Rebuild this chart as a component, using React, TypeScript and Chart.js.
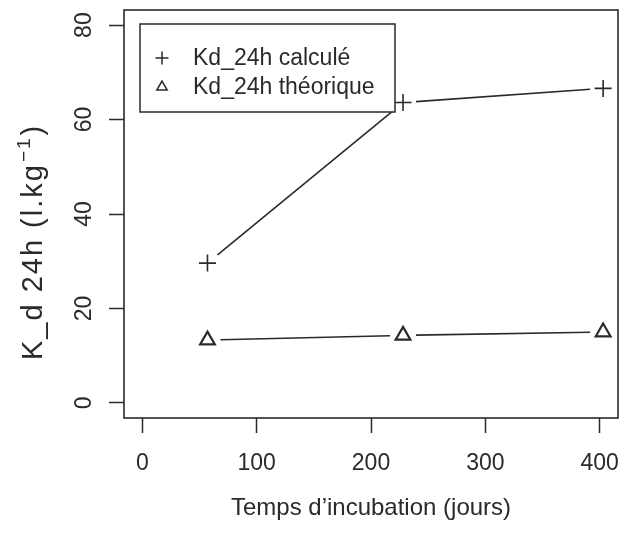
import React, { useEffect, useRef } from 'react';
import { Chart, registerables } from 'chart.js';

Chart.register(...registerables);

// ---- data ----
const incubationDays = [57, 228, 403];
const kdCalcule = [29.6, 63.6, 66.6];
const kdTheorique = [13.3, 14.3, 15.0];
const seriesLabels = ['Kd_24h calculé', 'Kd_24h théorique'];
const xTickValues = [0, 100, 200, 300, 400];
const yTickValues = [0, 20, 40, 60, 80];
const xTitle = 'Temps d’incubation (jours)';
const yTitleMain = 'K_d 24h (l.kg';
const yTitleSup = '−1';
const yTitleEnd = ')';

const INK = '#2a2a2a';
const FONT = '"Liberation Sans", Arial, Helvetica, sans-serif';

const gappedLines = {
  id: 'gappedLines',
  beforeDatasetsDraw(chart: any) {
    const ctx = chart.ctx;
    const gap = 13;
    chart.data.datasets.forEach((_ds: any, i: number) => {
      const pts = chart.getDatasetMeta(i).data;
      ctx.save();
      ctx.strokeStyle = INK;
      ctx.lineWidth = 1.6;
      for (let k = 0; k < pts.length - 1; k++) {
        const a = pts[k], b = pts[k + 1];
        const dx = b.x - a.x, dy = b.y - a.y;
        const len = Math.hypot(dx, dy);
        if (len < 2 * gap) continue;
        const ux = dx / len, uy = dy / len;
        ctx.beginPath();
        ctx.moveTo(a.x + ux * gap, a.y + uy * gap);
        ctx.lineTo(b.x - ux * gap, b.y - uy * gap);
        ctx.stroke();
      }
      ctx.restore();
    });
  },
};

const frameLegendTitle = {
  id: 'frameLegendTitle',
  afterDatasetsDraw(chart: any) {
    const ctx = chart.ctx;
    const ca = chart.chartArea;
    // legend box (white background hides the line below it)
    const bx = ca.left + 16, by = ca.top + 14, bw = 255, bh = 88;
    ctx.save();
    ctx.fillStyle = '#ffffff';
    ctx.fillRect(bx, by, bw, bh);
    ctx.strokeStyle = INK;
    ctx.lineWidth = 1.5;
    ctx.strokeRect(bx, by, bw, bh);
    ctx.font = `23px ${FONT}`;
    ctx.fillStyle = INK;
    ctx.textBaseline = 'middle';
    ctx.textAlign = 'left';
    const rows = [by + 34, by + 63];
    chart.data.datasets.forEach((ds: any, i: number) => {
      const sx = bx + 22, sy = rows[i];
      ctx.lineWidth = 1.5;
      ctx.beginPath();
      if (ds.pointStyle === 'cross') {
        ctx.moveTo(sx - 6.5, sy); ctx.lineTo(sx + 6.5, sy);
        ctx.moveTo(sx, sy - 6.5); ctx.lineTo(sx, sy + 6.5);
      } else {
        const r = 6;
        ctx.moveTo(sx, sy - r);
        ctx.lineTo(sx + r * Math.sin((2 * Math.PI) / 3), sy - r * Math.cos((2 * Math.PI) / 3));
        ctx.lineTo(sx + r * Math.sin((4 * Math.PI) / 3), sy - r * Math.cos((4 * Math.PI) / 3));
        ctx.closePath();
      }
      ctx.stroke();
      ctx.fillText(ds.label, bx + 53, sy + 1);
    });
    ctx.restore();
  },
  afterDraw(chart: any) {
    const ctx = chart.ctx;
    const ca = chart.chartArea;
    ctx.save();
    ctx.strokeStyle = INK;
    ctx.lineWidth = 1.6;
    ctx.strokeRect(ca.left, ca.top, ca.right - ca.left, ca.bottom - ca.top);
    // y axis title with superscript
    ctx.fillStyle = INK;
    ctx.translate(42, 360);
    ctx.rotate(-Math.PI / 2);
    ctx.textAlign = 'left';
    ctx.textBaseline = 'alphabetic';
    (ctx as any).letterSpacing = '2px';
    ctx.font = `29px ${FONT}`;
    ctx.fillText(yTitleMain, 0, 0);
    let w = ctx.measureText(yTitleMain).width;
    ctx.font = `19px ${FONT}`;
    ctx.fillText(yTitleSup, w + 1, -12);
    w += ctx.measureText(yTitleSup).width + 2;
    ctx.font = `29px ${FONT}`;
    ctx.fillText(yTitleEnd, w, 0);
    (ctx as any).letterSpacing = '0px';
    ctx.restore();
  },
};

export default function App() {
  const ref = useRef<HTMLCanvasElement | null>(null);

  useEffect(() => {
    document.body.style.margin = '0';
    const canvas = ref.current;
    if (!canvas) return;
    const chart = new Chart(canvas, {
      type: 'scatter',
      data: {
        datasets: [
          {
            label: seriesLabels[0],
            data: incubationDays.map((x, i) => ({ x, y: kdCalcule[i] })),
            pointStyle: 'cross',
            pointRadius: 8.5,
            pointBorderWidth: 1.6,
            borderColor: INK,
            backgroundColor: 'transparent',
            showLine: false,
          },
          {
            label: seriesLabels[1],
            data: incubationDays.map((x, i) => ({ x, y: kdTheorique[i] })),
            pointStyle: 'triangle',
            pointRadius: 8.5,
            pointBorderWidth: 2.2,
            borderColor: INK,
            backgroundColor: 'transparent',
            showLine: false,
          },
        ],
      } as any,
      options: {
        animation: false,
        responsive: false,
        devicePixelRatio: 1,
        layout: { autoPadding: false, padding: { left: 0, right: 3, top: 10, bottom: 0 } },
        plugins: { legend: { display: false }, tooltip: { enabled: false } },
        scales: {
          x: {
            type: 'linear',
            min: -16,
            max: 416,
            afterBuildTicks: (s: any) => {
              s.ticks = xTickValues.map((v) => ({ value: v }));
            },
            afterFit: (s: any) => {
              s.height = 117;
              s.paddingLeft = 0;
              s.paddingRight = 0;
            },
            grid: {
              drawOnChartArea: false,
              drawTicks: true,
              tickLength: 15,
              tickWidth: 1.5,
              tickColor: INK,
            },
            border: { display: false },
            ticks: {
              padding: 17,
              color: INK,
              font: { family: FONT, size: 23 },
              maxRotation: 0,
              minRotation: 0,
            },
            title: {
              display: true,
              text: xTitle,
              color: INK,
              font: { family: FONT, size: 24 },
              padding: { top: 0, bottom: 12 },
            },
          },
          y: {
            type: 'linear',
            min: -3.2,
            max: 83.2,
            afterBuildTicks: (s: any) => {
              s.ticks = yTickValues.map((v) => ({ value: v }));
            },
            afterFit: (s: any) => {
              s.width = 124;
              s.paddingTop = 0;
              s.paddingBottom = 0;
            },
            grid: {
              drawOnChartArea: false,
              drawTicks: true,
              tickLength: 15,
              tickWidth: 1.5,
              tickColor: INK,
            },
            border: { display: false },
            ticks: {
              padding: 12,
              color: INK,
              font: { family: FONT, size: 23 },
              minRotation: 90,
              maxRotation: 90,
              crossAlign: 'center',
            },
          },
        },
      } as any,
      plugins: [gappedLines, frameLegendTitle],
    });
    return () => chart.destroy();
  }, []);

  return (
    <canvas
      ref={ref}
      width={621}
      height={535}
      style={{ display: 'block', width: 621, height: 535 }}
    />
  );
}
